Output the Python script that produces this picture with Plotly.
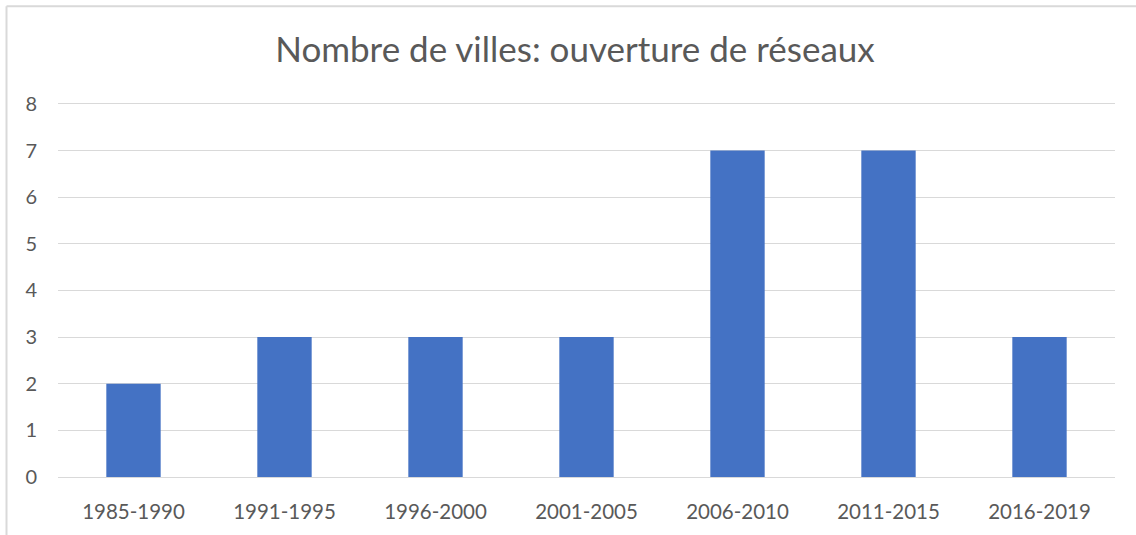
import plotly.graph_objects as go

categories = ["1985-1990", "1991-1995", "1996-2000", "2001-2005", "2006-2010", "2011-2015", "2016-2019"]
values = [2, 3, 3, 3, 7, 7, 3]
title_text = "Nombre de villes: ouverture de réseaux"

W, H = 1136, 535
L, R, T, B = 58, 21, 100, 55
pw, ph = W - L - R, H - T - B
unit = (H - B - 104) / 8.0
ytop = (H - B - T) / unit

def px_x(x):
    return (x - L) / pw

def px_y(y):
    return (H - B - y) / ph

fig = go.Figure(go.Bar(x=categories, y=values, marker_color="#4472C4", marker_line_width=0))

fig.update_layout(
    width=W, height=H,
    margin=dict(l=L, r=R, t=T, b=B),
    paper_bgcolor="white", plot_bgcolor="white",
    bargap=0.64,
    font=dict(family="Lato, Open Sans, sans-serif", color="#595959", size=20),
    title=dict(text=title_text, x=575 / W, xanchor="center",
               y=1 - 50 / H, yanchor="middle", font=dict(size=35, color="#595959")),
    showlegend=False,
    xaxis=dict(showgrid=False, showline=False, ticks="", ticklabelstandoff=20, tickfont=dict(size=20.5)),
    yaxis=dict(range=[0, ytop], tickvals=[0, 1, 2, 3, 4, 5, 6, 7, 8], showgrid=True, gridcolor="#d9d9d9", gridwidth=1,
               zeroline=True, zerolinecolor="#d9d9d9", zerolinewidth=1,
               showline=False, ticks="", ticklabelstandoff=20, tickfont=dict(size=20)),
    shapes=[
        dict(type="line", xref="paper", yref="paper", x0=px_x(6.5), x1=px_x(W + 5), y0=px_y(5.5), y1=px_y(5.5),
             line=dict(color="#d9d9d9", width=2)),
        dict(type="line", xref="paper", yref="paper", x0=px_x(6.5), x1=px_x(6.5), y0=px_y(5.5), y1=px_y(H + 5),
             line=dict(color="#d9d9d9", width=2)),
    ],
)

fig.write_html("out.html", config={"displayModeBar": False},
               post_script="document.body.style.margin='0';document.body.style.overflow='hidden';")
